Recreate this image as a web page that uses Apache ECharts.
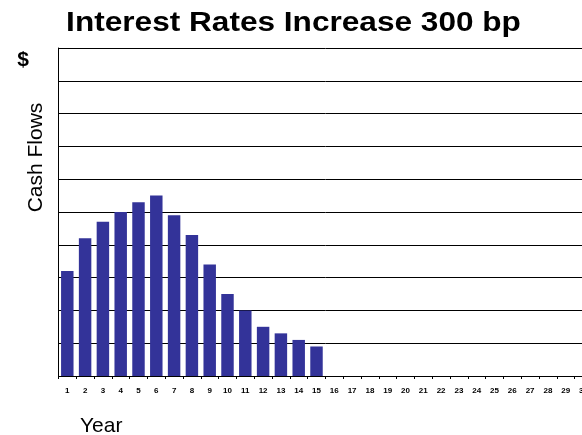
<!DOCTYPE html>
<html>
<head>
<meta charset="utf-8">
<script src="https://cdn.jsdelivr.net/npm/echarts@6/dist/echarts.min.js"></script>
<style>
  html, body { margin: 0; padding: 0; background: #fff; overflow: hidden; }
  /* the plot runs slightly past the right edge, so the canvas is wider than the window */
  #chart { width: 600px; height: 435px; }
</style>
</head>
<body>
<div id="chart"></div>
<script>
// Projected cash flows by year after a 300 bp rate increase
const years = [];
for (let y = 1; y <= 30; y++) years.push(String(y));
const cashFlows = [3.2, 4.2, 4.7, 5.0, 5.3, 5.5, 4.9, 4.3, 3.4, 2.5, 2.0, 1.5, 1.3, 1.1, 0.9,
                   null, null, null, null, null, null, null, null, null, null, null, null, null, null, null];
const titleText = 'Interest Rates Increase 300 bp';
const yAxisTitle = 'Cash Flows';
const xAxisTitle = 'Year';
const unitText = '$';

const FONT = '"Liberation Sans", Arial, sans-serif';
const chart = echarts.init(document.getElementById('chart'), null, { renderer: 'canvas' });

chart.setOption({
  animation: false,
  backgroundColor: '#ffffff',
  graphic: [
    { type: 'text', x: 293.5, y: 24, scaleX: 1.17, scaleY: 1,
      style: { text: titleText, font: 'bold 27px ' + FONT, fill: '#000',
               align: 'center', verticalAlign: 'middle' } },
    { type: 'text', x: 23, y: 60,
      style: { text: unitText, font: 'bold 21px ' + FONT, fill: '#000',
               align: 'center', verticalAlign: 'middle' } },
    { type: 'text', x: 36, y: 157.5, rotation: Math.PI / 2,
      style: { text: yAxisTitle, font: '21px ' + FONT, fill: '#000',
               align: 'center', verticalAlign: 'middle' } },
    { type: 'text', x: 80, y: 426,
      style: { text: xAxisTitle, font: '21px ' + FONT, fill: '#000',
               align: 'left', verticalAlign: 'middle' } }
  ],
  grid: { left: 58.4, top: 48, width: 534, height: 328, containLabel: false },
  xAxis: {
    type: 'category',
    data: years,
    boundaryGap: true,
    axisLine: { show: true, lineStyle: { color: '#000', width: 1 } },
    axisTick: { show: true, length: 3, alignWithLabel: false, lineStyle: { color: '#000' } },
    axisLabel: { interval: 0, margin: 11, fontFamily: FONT, fontSize: 8, fontWeight: 'bold', color: '#000' },
    splitLine: { show: false }
  },
  yAxis: {
    type: 'value',
    min: 0,
    max: 10,
    interval: 1,
    axisLine: { show: true, lineStyle: { color: '#000', width: 1 } },
    axisTick: { show: false },
    axisLabel: { show: false },
    splitLine: { show: true, lineStyle: { color: '#000', width: 1 } }
  },
  series: [{
    type: 'bar',
    data: cashFlows,
    barCategoryGap: '30%',
    itemStyle: { color: '#333399' }
  }]
});
</script>
</body>
</html>
